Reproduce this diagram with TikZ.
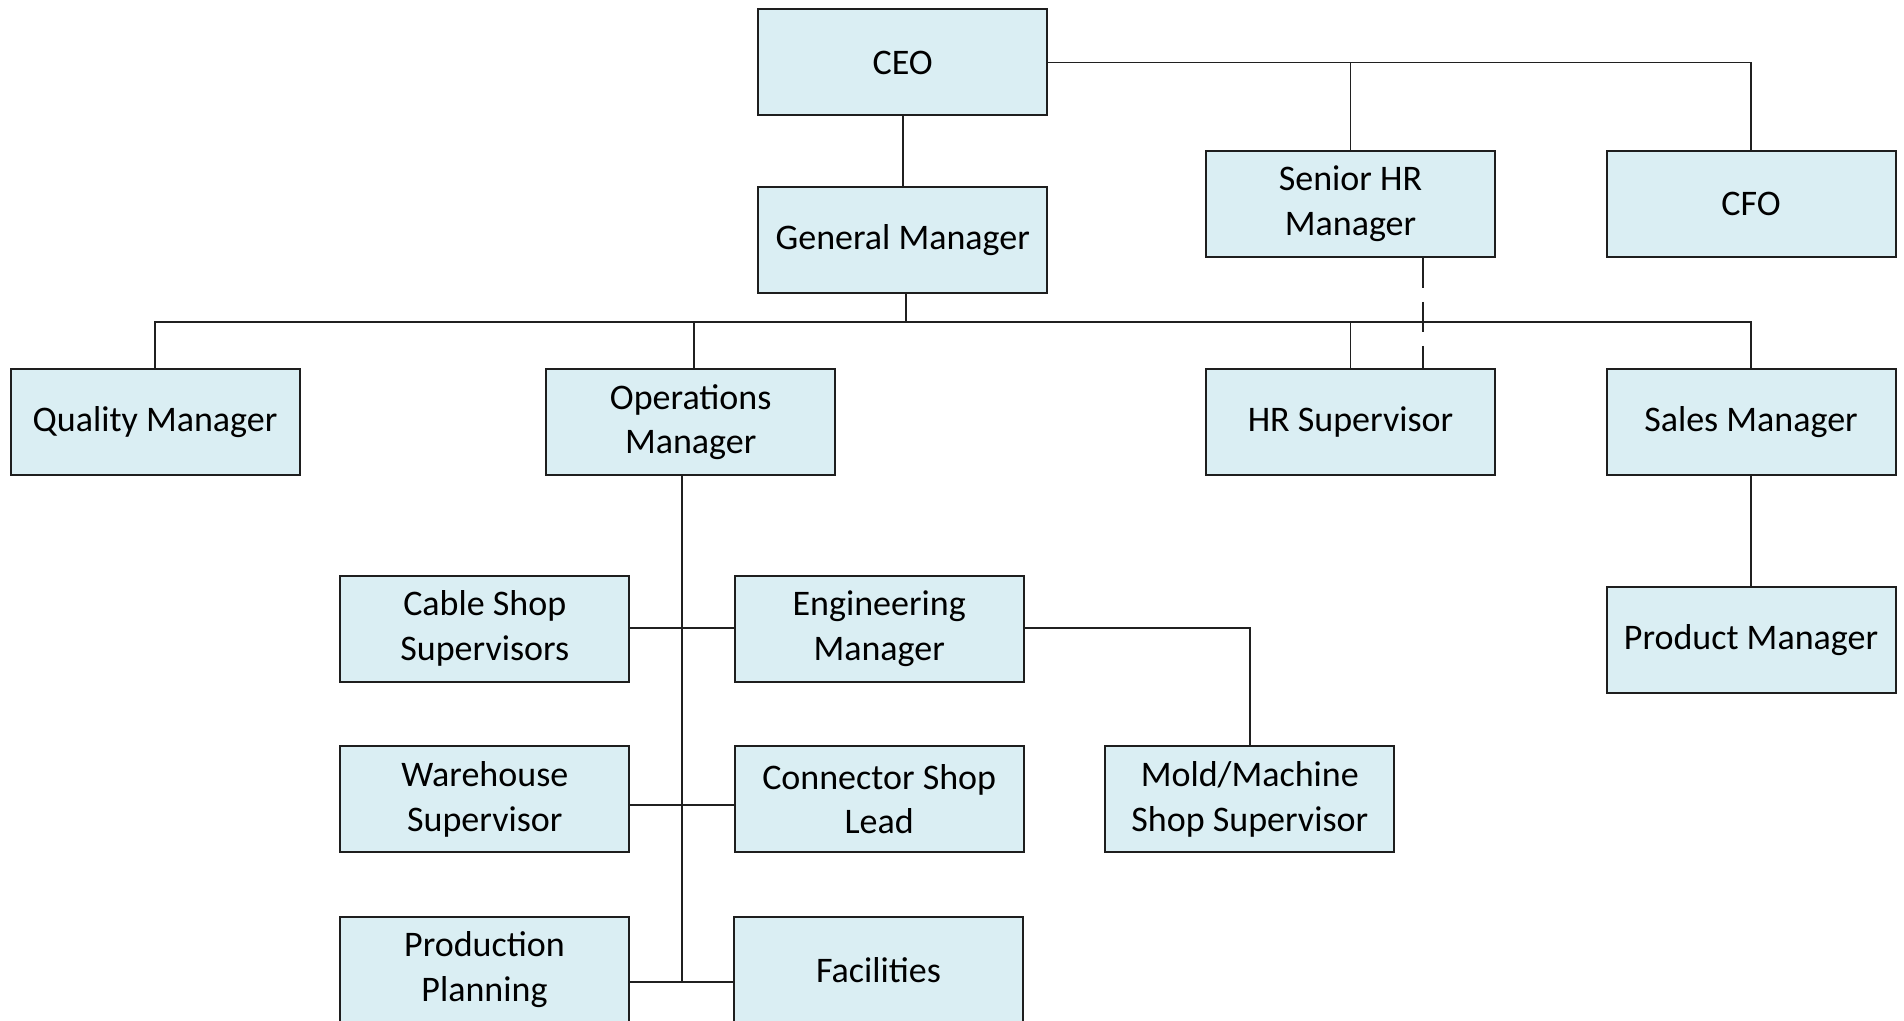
\documentclass[tikz,border=0pt]{standalone}
\usepackage{fontspec}
\setmainfont{Carlito}
\usetikzlibrary{calc}
\definecolor{boxfill}{HTML}{DAEEF3}
\definecolor{boxline}{HTML}{1E1E1E}
\definecolor{conline}{HTML}{202020}
\tikzset{
  orgbox/.style={draw=boxline, fill=boxfill, line width=1pt, inner sep=0pt,
    minimum width=144.5pt, minimum height=53pt, align=center,
    font=\fontsize{18}{22.3}\selectfont, text=black},
  conn/.style={draw=conline, line width=0.9pt},
  dotted link/.style={conn, dash pattern=on 15pt off 7pt}
}
\begin{document}
\begin{tikzpicture}[x=0.5pt, y=-0.5pt]
\clip (0,0) rectangle (1904,1021);
\fill[white] (0,0) rectangle (1904,1021);
% nodes
\node[orgbox] (ceo)   at (902.7, 62.5) {CEO};
\node[orgbox] (gm)    at (902.7, 239.6) {General Manager};
\node[orgbox] (shr)   at (1350.5, 204) {Senior HR\\Manager};
\node[orgbox] (cfo)   at (1751, 204) {CFO};
\node[orgbox] (qm)    at (155, 422) {Quality Manager};
\node[orgbox] (ops)   at (690.7, 422) {Operations\\Manager};
\node[orgbox] (hrs)   at (1350.5, 422) {HR Supervisor};
\node[orgbox] (sales) at (1751, 422) {Sales Manager};
\node[orgbox] (prod)  at (1751, 640.4) {Product Manager};
\node[orgbox] (cable) at (484.8, 628.5) {Cable Shop\\Supervisors};
\node[orgbox] (eng)   at (879.2, 628.5) {Engineering\\Manager};
\node[orgbox] (wh)    at (484.8, 799.3) {Warehouse\\Supervisor};
\node[orgbox] (cshop) at (879.2, 799.3) {Connector Shop\\Lead};
\node[orgbox] (mold)  at (1249.8, 799.3) {Mold/Machine\\Shop Supervisor};
\node[orgbox] (pp)    at (484.5, 969.7) {Production\\Planning};
\node[orgbox] (fac)   at (878.5, 969.7) {Facilities};
% helper coordinates
\coordinate (bus) at (900, 321.7);
\coordinate (gmdrop) at ([xshift=1.5pt]gm.south);
\coordinate (opsup) at ([xshift=1.5pt]ops.north);
\coordinate (j1) at (682, 628);
\coordinate (j2) at (682, 805);
\coordinate (j3) at (682, 981.7);
\coordinate (dtop) at ($(shr.south)!0.5!(shr.south east)$);
% connectors
\draw[conn] (ceo) -- (gm);
\draw[conn] (ceo.east) -| (cfo.north);
\draw[conn] (shr.north) -- (shr.north |- ceo.east);
\draw[conn] (gmdrop) -- (gmdrop |- bus);
\draw[conn] (qm.north) |- (bus -| sales.north) -- (sales.north);
\draw[conn] (opsup) -- (opsup |- bus);
\draw[conn] (hrs.north) -- (hrs.north |- bus);
\draw[dotted link] (dtop) -- (dtop |- hrs.north);
\draw[conn] (sales) -- (prod);
\draw[conn] (ops.south -| j1) -- (j3);
\draw[conn] (cable.east |- j1) -- (eng.west |- j1);
\draw[conn] (wh.east |- j2) -- (cshop.west |- j2);
\draw[conn] (pp.east |- j3) -- (fac.west |- j3);
\draw[conn] (eng.east |- j1) -| (mold.north);
\end{tikzpicture}
\end{document}
